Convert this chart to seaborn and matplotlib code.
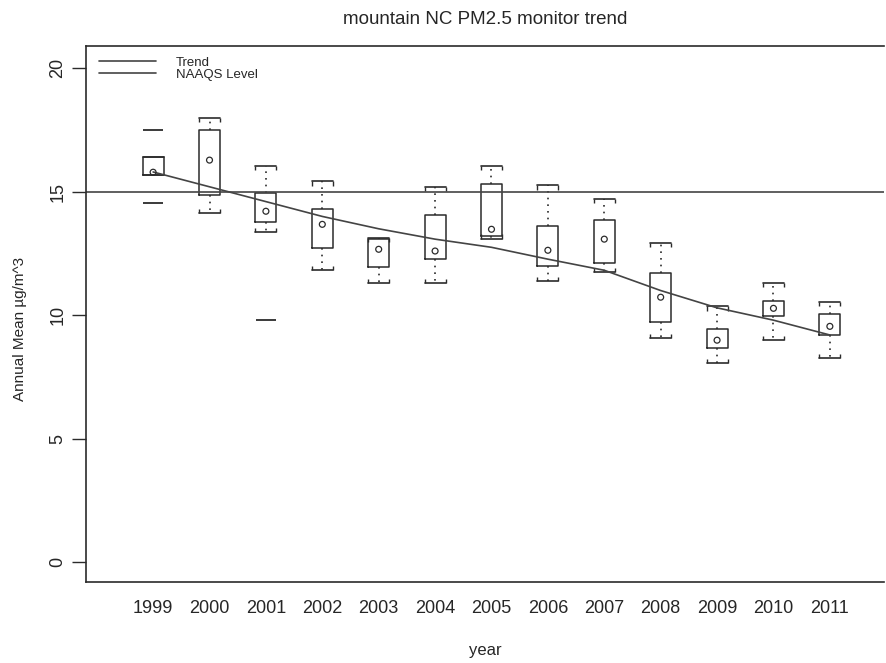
import numpy as np
import pandas as pd
import seaborn as sns
import matplotlib
matplotlib.use("Agg")
import matplotlib.pyplot as plt
from matplotlib.lines import Line2D

## values ##
years = [1999, 2000, 2001, 2002, 2003, 2004, 2005, 2006, 2007, 2008, 2009, 2010, 2011]
box_hi = [16.4, 17.5, 14.95, 14.3, 13.1, 14.05, 15.3, 13.6, 13.85, 11.72, 9.43, 10.57, 10.04]
box_lo = [15.67, 14.86, 13.77, 12.71, 11.94, 12.27, 13.2, 11.98, 12.1, 9.72, 8.66, 9.96, 9.19]
whisk_hi = [16.4, 17.98, 16.03, 15.42, 13.12, 15.18, 16.03, 15.26, 14.7, 12.92, 10.36, 11.3, 10.53]
whisk_lo = [15.67, 14.13, 13.36, 11.82, 11.3, 11.3, 13.1, 11.38, 11.74, 9.07, 8.06, 8.99, 8.26]
means = [15.79, 16.28, 14.21, 13.68, 12.67, 12.6, 13.48, 12.63, 13.08, 10.73, 8.99, 10.28, 9.55]
trend = [15.8, 15.2, 14.6, 14.0, 13.5, 13.08, 12.75, 12.27, 11.82, 11.0, 10.3, 9.8, 9.2]
outlier_years = [1999, 1999, 2001]
outlier_vals = [17.5, 14.56, 9.8]
naaqs = 15
y_ticks = [0, 5, 10, 15, 20]

sns.set_style("ticks")
plt.rcParams['font.family'] = ['Liberation Sans', 'DejaVu Sans']

ink = "#2b2b2b"
box_w = 0.37

fig = plt.figure(figsize=(8.87, 6.63), dpi=100)
ax = fig.add_axes([86 / 887, 1 - 582 / 663, (884 - 86) / 887, (582 - 46) / 663])

pos = np.arange(len(years))

## box stats built from the arrays, fliers per year ##
stats = []
for i, yr in enumerate(years):
    fl = [v for y, v in zip(outlier_years, outlier_vals) if y == yr]
    stats.append(dict(q1=box_lo[i], q3=box_hi[i], med=(box_lo[i] + box_hi[i]) / 2,
                      whislo=whisk_lo[i], whishi=whisk_hi[i], fliers=fl))

ax.bxp(stats, positions=pos, widths=box_w, capwidths=box_w, showfliers=True,
       boxprops=dict(color=ink, linewidth=1.1),
       whiskerprops=dict(color=ink, linewidth=1.2, linestyle=(0, (1, 3))),
       capprops=dict(color=ink, linewidth=1.2),
       medianprops=dict(linewidth=0),
       flierprops=dict(marker="_", markersize=15, markeredgecolor=ink, markeredgewidth=1.3))

# little end ticks on the staples (bracket look)
for i in range(len(years)):
    if whisk_hi[i] > box_hi[i]:
        for dx in (-box_w / 2, box_w / 2):
            ax.vlines(pos[i] + dx, whisk_hi[i] - 0.17, whisk_hi[i], color=ink, linewidth=1.0)
    if whisk_lo[i] < box_lo[i]:
        for dx in (-box_w / 2, box_w / 2):
            ax.vlines(pos[i] + dx, whisk_lo[i], whisk_lo[i] + 0.17, color=ink, linewidth=1.0)

## means, trend and the NAAQS level ##
sns.scatterplot(x=pos, y=means, ax=ax, marker="o", s=18, facecolor="none",
                edgecolor=ink, linewidth=0.9, zorder=5)
sns.lineplot(x=pos, y=trend, ax=ax, color="#444444", linewidth=1.2)
ax.axhline(naaqs, color="#444444", linewidth=1.2)

ax.set_xlim(-1.19, 12.96)
ax.set_ylim(-0.8, 20.9)
ax.set_xticks(pos)
ax.set_xticklabels([str(y) for y in years], fontsize=13)
ax.set_yticks(y_ticks)
ax.set_yticklabels([str(t) for t in y_ticks], fontsize=13, rotation=90, va="center")
ax.tick_params(axis="x", length=0, pad=13)
ax.tick_params(axis="y", length=10, width=1.0, pad=4, color=ink)

for s in ["left", "bottom", "top"]:
    ax.spines[s].set_color(ink)
    ax.spines[s].set_linewidth(1.2)
ax.spines["right"].set_visible(False)

ax.set_xlabel("year", fontsize=12, va="center")
ax.xaxis.set_label_coords(0.5, (582 - 650) / 536)
ax.set_ylabel("Annual Mean µg/m^3", fontsize=11, va="center")
ax.yaxis.set_label_coords((20 - 86) / 798, (582 - 329) / 536)
fig.text(485 / 887, 1 - 19 / 663, "mountain NC PM2.5 monitor trend", fontsize=13.5,
         ha="center", va="center")

handles = [Line2D([], [], color="#444444", linewidth=1.2),
           Line2D([], [], color="#444444", linewidth=1.2)]
ax.legend(handles, ["Trend", "NAAQS Level"], loc="upper left",
          bbox_to_anchor=(8 / 798, 1 - 5 / 536),
          frameon=False, fontsize=9.5, handlelength=4.3, handletextpad=1.5,
          labelspacing=0.0, borderaxespad=0.0, borderpad=0.4)

fig.savefig("out.png", dpi=100, facecolor="white")
